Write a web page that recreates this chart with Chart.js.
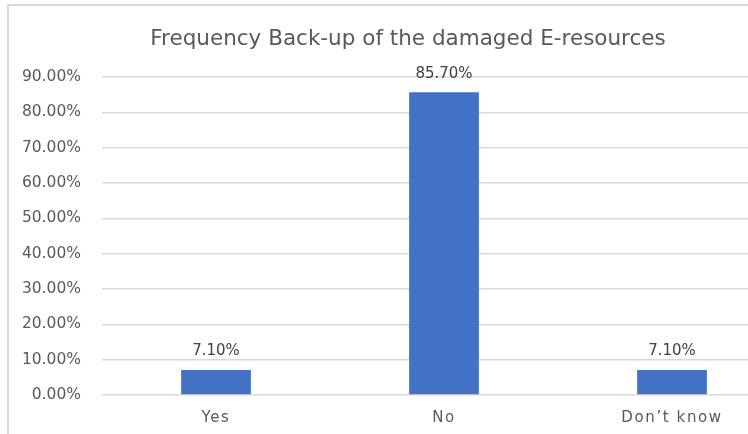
<!DOCTYPE html>
<html>
<head>
<meta charset="utf-8">
<script src="https://cdn.jsdelivr.net/npm/chart.js@4.4.1/dist/chart.umd.min.js"></script>
<style>
  html, body { margin: 0; padding: 0; background: #fff; overflow: hidden; width: 748px; height: 434px; }
  #frame { position: absolute; left: 7px; top: 4px; width: 798px; height: 440px; border-top: 2px solid #d9d9d9; border-left: 2px solid #d9d9d9; background: #fff; }
  #frame canvas { display: block; }
</style>
</head>
<body>
<div id="frame"><canvas id="c" width="798" height="440"></canvas></div>
<script>
const categories = ["Yes", "No", "Don\u2019t know"];
const backupShare = [7.1, 85.7, 7.1];
const axisMax = 90;
const axisStep = 10;
const chartTitle = "Frequency Back-up of the damaged E-resources";

const FONT = "'DejaVu Sans', sans-serif";
const TEXT_GREY = "#595959";

// Title centred on the whole chart frame (not just the plot area)
const frameTitle = {
  id: "frameTitle",
  afterDraw(chart) {
    const ctx = chart.ctx;
    ctx.save();
    ctx.font = "21.5px " + FONT;
    ctx.fillStyle = TEXT_GREY;
    ctx.textAlign = "center";
    ctx.textBaseline = "middle";
    ctx.fillText(chartTitle, chart.width / 2, 33);
    ctx.restore();
  }
};

// Percentage labels drawn above each bar
const barValueLabels = {
  id: "barValueLabels",
  afterDatasetsDraw(chart) {
    const ctx = chart.ctx;
    const meta = chart.getDatasetMeta(0);
    ctx.save();
    ctx.font = "15px " + FONT;
    ctx.fillStyle = "#404040";
    ctx.textAlign = "center";
    ctx.textBaseline = "middle";
    meta.data.forEach((bar, i) => {
      const v = chart.data.datasets[0].data[i];
      ctx.fillText(v.toFixed(2) + "%", bar.x, bar.y - 18.5);
    });
    ctx.restore();
  }
};

// Slightly spaced-out category names on the x axis
const spacedCategoryLabels = {
  id: "spacedCategoryLabels",
  afterLayout(chart) {
    const s = chart.scales.x;
    if (s._spaced) return;
    const orig = s.drawLabels.bind(s);
    s.drawLabels = (area) => {
      const ctx = s.ctx;
      ctx.save();
      ctx.letterSpacing = "1.6px";
      orig(area);
      ctx.restore();
    };
    s._spaced = true;
  }
};

new Chart(document.getElementById("c"), {
  type: "bar",
  data: {
    labels: categories,
    datasets: [{
      data: backupShare,
      backgroundColor: "#4472c4",
      borderWidth: 0,
      categoryPercentage: 1,
      barPercentage: 0.306
    }]
  },
  options: {
    responsive: false,
    animation: false,
    layout: { padding: { left: 0, right: 21, top: 71, bottom: 0 } },
    plugins: {
      legend: { display: false },
      tooltip: { enabled: false },
      title: { display: false }
    },
    scales: {
      x: {
        grid: { display: false, drawTicks: false },
        border: { display: false },
        ticks: {
          color: TEXT_GREY,
          font: { family: FONT, size: 15 },
          padding: 14,
          maxRotation: 0
        },
        afterFit(scale) { scale.height = 51; }
      },
      y: {
        min: 0,
        max: axisMax,
        grid: { color: "#d9d9d9", lineWidth: 1.5, drawTicks: false },
        border: { display: false },
        ticks: {
          stepSize: axisStep,
          color: TEXT_GREY,
          font: { family: FONT, size: 15.5 },
          padding: 21,
          callback: (v) => v.toFixed(2) + "%"
        },
        afterFit(scale) { scale.width = 93; }
      }
    }
  },
  plugins: [frameTitle, barValueLabels, spacedCategoryLabels]
});
</script>
</body>
</html>
